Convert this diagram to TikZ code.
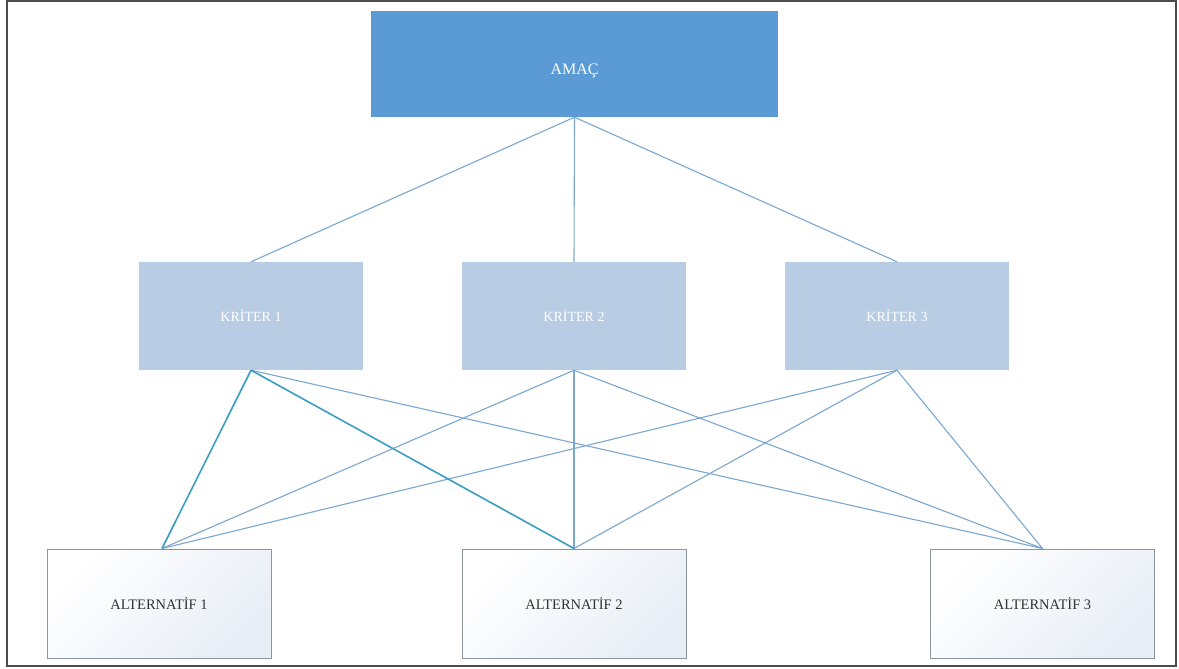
\documentclass[tikz,border=0pt]{standalone}
\usepackage{fontspec}
\setmainfont{Liberation Serif}
\begin{document}
\begin{tikzpicture}[x=1pt,y=-1pt,
  goalbox/.style={draw=none,fill=goalblue,minimum width=407pt,minimum height=106pt,text=white,font=\fontsize{16}{19}\selectfont,inner sep=0pt,text height=21pt,text depth=0pt},
  critbox/.style={draw=none,fill=critblue,minimum width=224pt,minimum height=108pt,text=white,font=\fontsize{14}{17}\selectfont,inner sep=0pt},
  altbox/.style={draw=altgray,line width=1pt,top color=white,bottom color=altfill,shading angle=45,minimum width=224pt,minimum height=109pt,text=black!80,font=\fontsize{14.5}{17}\selectfont,inner sep=0pt},
  link/.style={draw=linkblue,line width=1.1pt},
  tlink/.style={draw=tealline,line width=1.6pt}]
\definecolor{goalblue}{HTML}{5B9BD5}
\definecolor{critblue}{HTML}{B8CCE4}
\definecolor{altgray}{HTML}{8C949C}
\definecolor{altfill}{HTML}{E8EEF6}
\definecolor{linkblue}{HTML}{7BA7D0}
\definecolor{tealline}{HTML}{3A9EC2}
\useasboundingbox (0,0) rectangle (1179,669);
\fill[white] (0,0) rectangle (1179,669);
\draw[black!70,line width=1.5pt] (7,1) rectangle (1176,666);
\node[goalbox] (goal) at (574.5,64) {AMAÇ};
\node[critbox] (k1) at (251,316) {KRİTER 1};
\node[critbox] (k2) at (574,316) {KRİTER 2};
\node[critbox] (k3) at (897,316) {KRİTER 3};
\node[altbox] (a1) at (159,603.5) {ALTERNATİF 1};
\node[altbox] (a2) at (574,603.5) {ALTERNATİF 2};
\node[altbox] (a3) at (1042.5,603.5) {ALTERNATİF 3};
\coordinate (a1t) at ([xshift=3pt]a1.north);
\draw[link] (goal.south) -- (k1.north);
\draw[link] (goal.south) -- (k2.north);
\draw[link] (goal.south) -- (k3.north);
\draw[link] (k1.south) -- (a3.north);
\draw[link] (k2.south) -- (a1t);
\draw[link] (k2.south) -- (a2.north);
\draw[link] (k2.south) -- (a3.north);
\draw[link] (k3.south) -- (a1t);
\draw[link] (k3.south) -- (a2.north);
\draw[link] (k3.south) -- (a3.north);
\draw[tlink] (k1.south) -- (a1t);
\draw[tlink] (k1.south) -- (a2.north);
\end{tikzpicture}
\end{document}
